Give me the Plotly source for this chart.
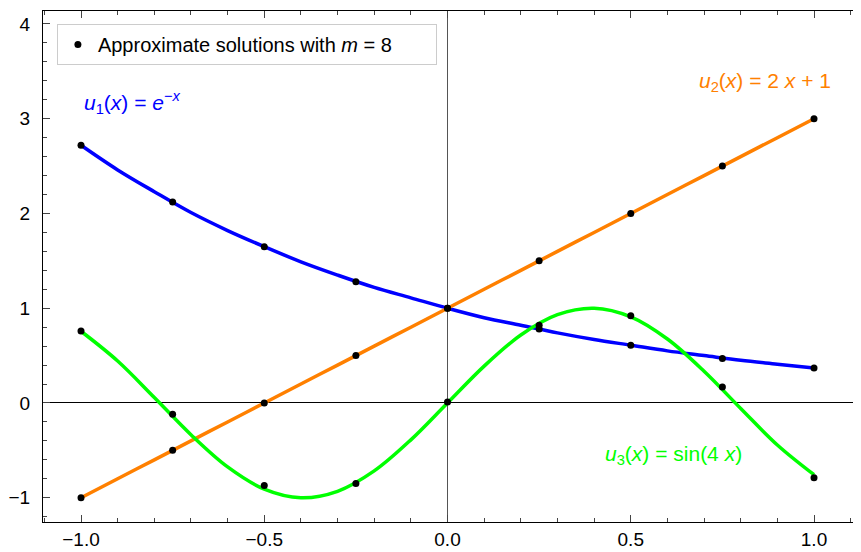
import plotly.graph_objects as go

# Approximate solution nodes (m = 8)
x_nodes = [-1.0, -0.75, -0.5, -0.25, 0.0, 0.25, 0.5, 0.75, 1.0]
u1_nodes = [2.72, 2.12, 1.65, 1.28, 1.00, 0.78, 0.61, 0.47, 0.37]
u2_nodes = [-1.0, -0.5, 0.0, 0.5, 1.0, 1.5, 2.0, 2.5, 3.0]
u3_nodes = [0.76, -0.12, -0.87, -0.85, 0.01, 0.82, 0.92, 0.17, -0.79]

# Exact curves
x_curve = [-1.0, -0.9, -0.8, -0.7, -0.6, -0.5, -0.4, -0.3, -0.2, -0.1, 0.0,
           0.1, 0.2, 0.3, 0.4, 0.5, 0.6, 0.7, 0.8, 0.9, 1.0]
u1_curve = [2.72, 2.46, 2.23, 2.01, 1.82, 1.65, 1.49, 1.35, 1.22, 1.11, 1.00,
            0.90, 0.82, 0.74, 0.67, 0.61, 0.55, 0.50, 0.45, 0.41, 0.37]
u2_curve = [-1.0, -0.8, -0.6, -0.4, -0.2, 0.0, 0.2, 0.4, 0.6, 0.8, 1.0,
            1.2, 1.4, 1.6, 1.8, 2.0, 2.2, 2.4, 2.6, 2.8, 3.0]
u3_curve = [0.757, 0.443, 0.058, -0.335, -0.675, -0.909, -1.0, -0.932, -0.717, -0.389, 0.0,
            0.389, 0.717, 0.932, 1.0, 0.909, 0.675, 0.335, -0.058, -0.443, -0.757]

x_ticks = [-1.0, -0.5, 0.0, 0.5, 1.0]
y_ticks = [-1, 0, 1, 2, 3, 4]

BLUE = "rgb(0,0,255)"
ORANGE = "rgb(255,128,0)"
GREEN = "rgb(0,255,0)"
FONT = "Liberation Sans, Arial, sans-serif"

fig = go.Figure()
for yc, col in [(u1_curve, BLUE), (u2_curve, ORANGE), (u3_curve, GREEN)]:
    fig.add_trace(go.Scatter(x=x_curve, y=yc, mode="lines", line=dict(color=col, width=3.5, shape="spline"),
                             showlegend=False, hoverinfo="skip"))

fig.add_trace(go.Scatter(x=x_nodes * 3, y=u1_nodes + u2_nodes + u3_nodes, mode="markers",
                         marker=dict(color="black", size=7),
                         name="Approximate solutions with <i>m</i> = 8", showlegend=True))

annots = [
    dict(x=-0.997, y=3.17, text="<i>u</i><sub>1</sub>(<i>x</i>) = <i>e</i><sup>−<i>x</i></sup>", color=BLUE),
    dict(x=0.681, y=3.39, text="<i>u</i><sub>2</sub>(<i>x</i>) = 2 <i>x</i> + 1", color=ORANGE),
    dict(x=0.424, y=-0.55, text="<i>u</i><sub>3</sub>(<i>x</i>) = sin(4 <i>x</i>)", color=GREEN),
]
for a in annots:
    fig.add_annotation(x=a["x"], y=a["y"], xref="x", yref="y", text=a["text"], showarrow=False,
                       xanchor="left", yanchor="middle", font=dict(family=FONT, size=21, color=a["color"]))

axis_common = dict(showline=True, linecolor="black", linewidth=1, mirror="ticks",
                   ticks="inside", ticklen=7, tickcolor="#444", tickwidth=1,
                   showgrid=False, zeroline=True, zerolinewidth=1, automargin=False,
                   tickfont=dict(family=FONT, size=19, color="black"))

fig.update_xaxes(range=[-1.1037, 1.1282], tickvals=x_ticks, tickformat=".1f",
                 zerolinecolor="#555",
                 minor=dict(dtick=0.1, tick0=0, ticks="inside", ticklen=4, tickcolor="#444", showgrid=False),
                 **axis_common)
fig.update_yaxes(range=[-1.256, 4.137], tickvals=y_ticks, zerolinecolor="black",
                 ticklabelstandoff=8,
                 minor=dict(dtick=0.2, tick0=0, ticks="inside", ticklen=4, tickcolor="#444", showgrid=False),
                 **axis_common)

# The page body adds an 8px offset, so the figure is 8px smaller and margins 8px tighter.
fig.update_layout(
    width=853, height=544,
    margin=dict(l=35, r=0, t=3, b=30),
    plot_bgcolor="white", paper_bgcolor="white",
    font=dict(family=FONT, size=18, color="black"),
    legend=dict(x=0.017, y=0.9746, xanchor="left", yanchor="top",
                bordercolor="#cccccc", borderwidth=1, bgcolor="white",
                font=dict(family=FONT, size=20, color="black"),
                orientation="h", entrywidth=333, entrywidthmode="pixels"),
)

fig.write_html("out.html")
